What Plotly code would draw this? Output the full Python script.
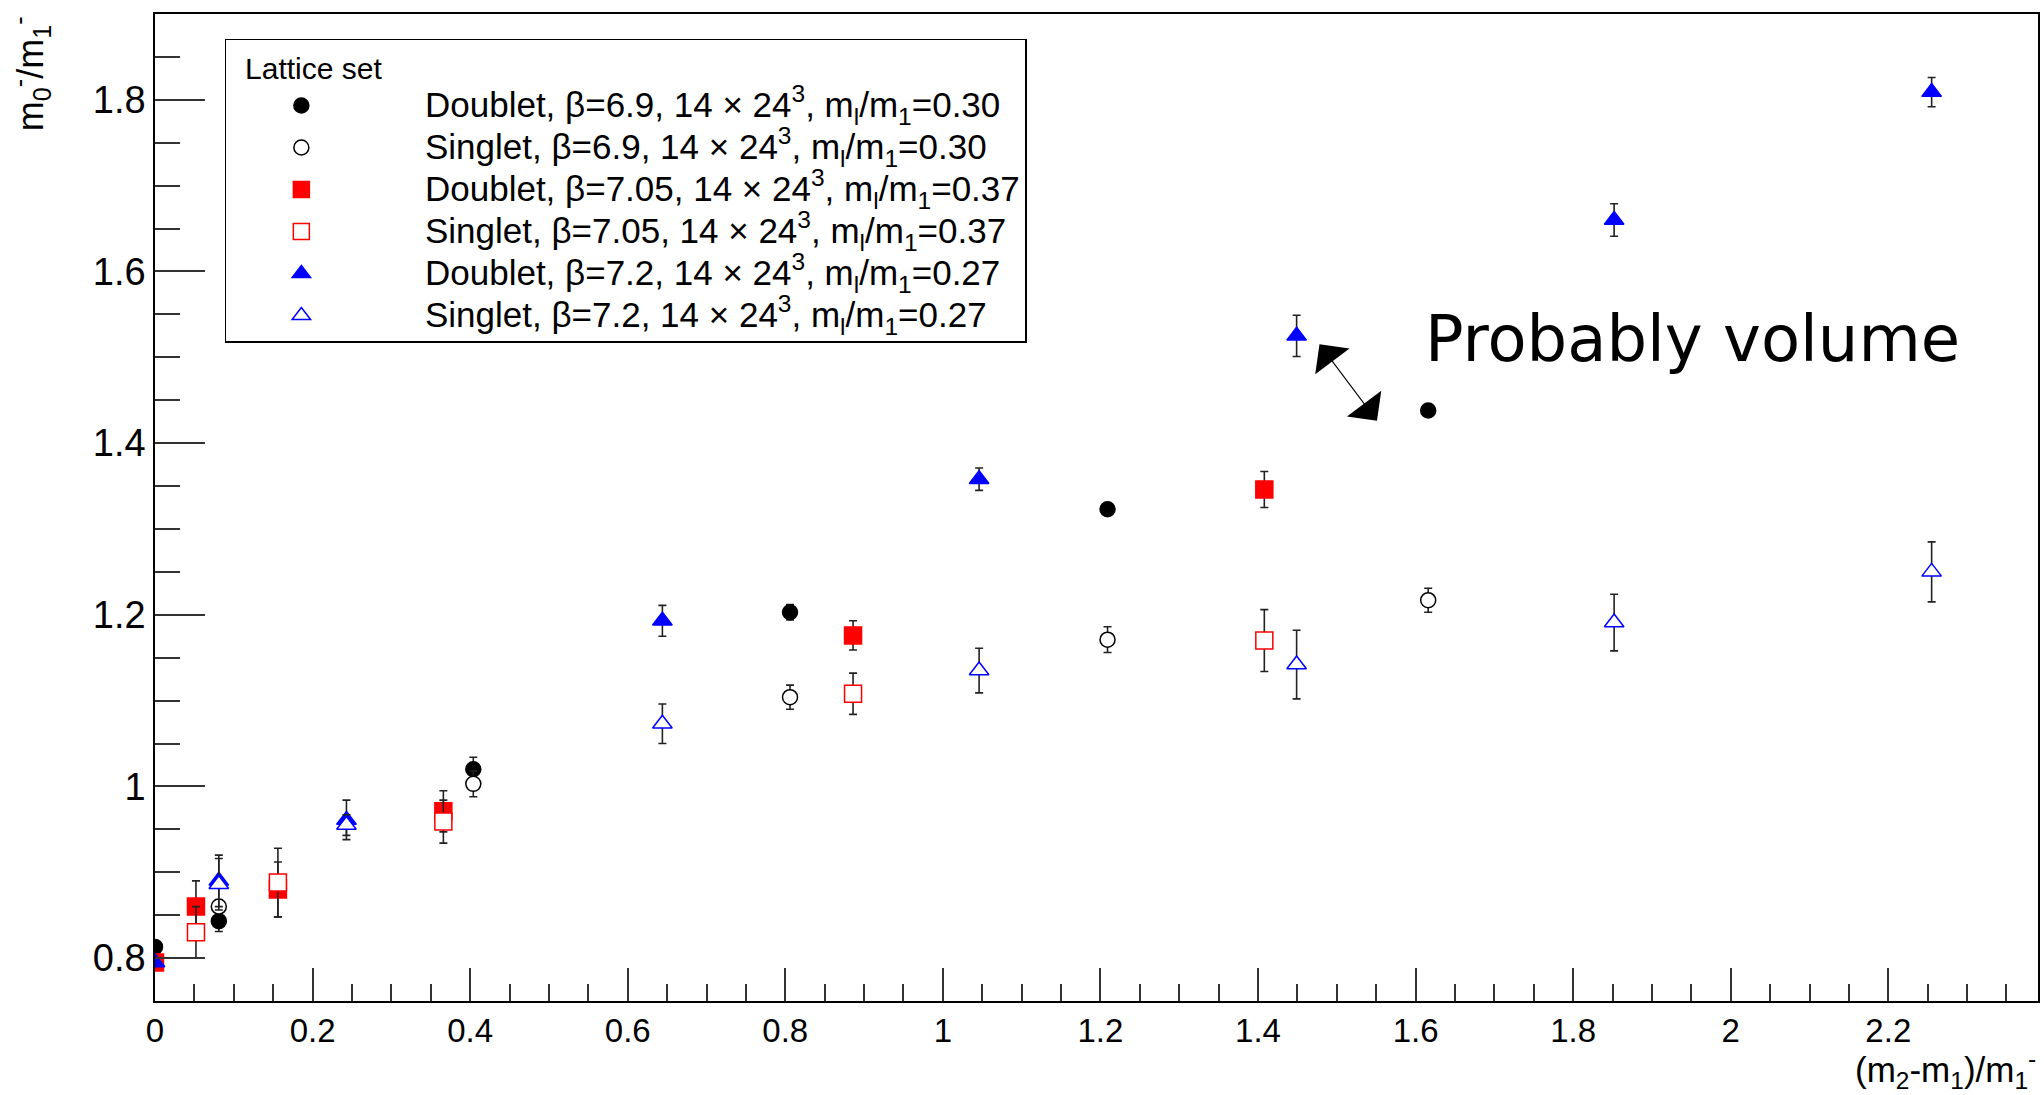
import plotly.graph_objects as go

# m0-/m1 ratio versus (m2-m1)/m1 for three lattice ensembles

# Doublet, beta=6.9
d69_x = [0.0, 0.081, 0.404, 0.806, 1.209, 1.616]
d69_y = [0.813, 0.843, 1.020, 1.203, 1.323, 1.438]
d69_err = [0.003, 0.012, 0.014, 0.009, 0.006, 0.004]

# Singlet, beta=6.9
s69_x = [0.081, 0.404, 0.806, 1.209, 1.616]
s69_y = [0.860, 1.003, 1.104, 1.171, 1.217]
s69_err = [0.008, 0.015, 0.014, 0.015, 0.014]

# Doublet, beta=7.05
d705_x = [0.0, 0.052, 0.156, 0.366, 0.886, 1.408]
d705_y = [0.795, 0.860, 0.880, 0.971, 1.176, 1.346]
d705_err = [0.003, 0.030, 0.032, 0.024, 0.017, 0.021]

# Singlet, beta=7.05
s705_x = [0.052, 0.156, 0.366, 0.886, 1.408]
s705_y = [0.830, 0.888, 0.959, 1.108, 1.170]
s705_err = [0.030, 0.040, 0.025, 0.024, 0.036]

# Doublet, beta=7.2
d72_x = [0.0, 0.081, 0.243, 0.644, 1.046, 1.449, 1.852, 2.255]
d72_y = [0.795, 0.890, 0.961, 1.193, 1.358, 1.525, 1.660, 1.809]
d72_err = [0.003, 0.030, 0.023, 0.018, 0.013, 0.024, 0.019, 0.017]

# Singlet, beta=7.2
s72_x = [0.081, 0.243, 0.644, 1.046, 1.449, 1.852, 2.255]
s72_y = [0.886, 0.955, 1.073, 1.135, 1.142, 1.191, 1.250]
s72_err = [0.030, 0.012, 0.023, 0.026, 0.040, 0.033, 0.035]

series_labels = [
    "Doublet, β=6.9, 14 × 24<sup>3</sup>, m<sub>l</sub>/m<sub>1</sub>=0.30",
    "Singlet, β=6.9, 14 × 24<sup>3</sup>, m<sub>l</sub>/m<sub>1</sub>=0.30",
    "Doublet, β=7.05, 14 × 24<sup>3</sup>, m<sub>l</sub>/m<sub>1</sub>=0.37",
    "Singlet, β=7.05, 14 × 24<sup>3</sup>, m<sub>l</sub>/m<sub>1</sub>=0.37",
    "Doublet, β=7.2, 14 × 24<sup>3</sup>, m<sub>l</sub>/m<sub>1</sub>=0.27",
    "Singlet, β=7.2, 14 × 24<sup>3</sup>, m<sub>l</sub>/m<sub>1</sub>=0.27",
]

FONT = "Liberation Sans, Arial, Helvetica, sans-serif"
NBSP = "\u00a0"

styles = [
    dict(symbol="circle", size=15, color="black", line=dict(color="black", width=1.5)),
    dict(symbol="circle", size=15, color="white", line=dict(color="black", width=1.5)),
    dict(symbol="square", size=17, color="#ff0000", line=dict(color="#ff0000", width=1.5)),
    dict(symbol="square", size=17, color="white", line=dict(color="#ff0000", width=1.5)),
    dict(symbol="triangle-up", size=17, color="#0000ff", line=dict(color="#0000ff", width=1.5)),
    dict(symbol="triangle-up", size=17, color="white", line=dict(color="#0000ff", width=1.5)),
]

data = [
    (d69_x, d69_y, d69_err),
    (s69_x, s69_y, s69_err),
    (d705_x, d705_y, d705_err),
    (s705_x, s705_y, s705_err),
    (d72_x, d72_y, d72_err),
    (s72_x, s72_y, s72_err),
]

fig = go.Figure()
for (xs, ys, es), label, st in zip(data, series_labels, styles):
    # legend rows keep a compact spacing while the entry text is drawn larger
    name = '<span style="font-size:35px">' + NBSP * 5 + label + "</span>"
    fig.add_trace(go.Scatter(
        x=xs, y=ys, mode="markers", name=name,
        marker=st,
        error_y=dict(type="data", array=es, visible=True,
                     color="#222222", thickness=1.6, width=4),
    ))

fig.update_layout(
    width=2044, height=1095,
    margin=dict(l=155, r=4, t=14, b=94),
    paper_bgcolor="white", plot_bgcolor="white",
    font=dict(family=FONT, color="black"),
    showlegend=True,
    legend=dict(
        x=0.0371, y=0.9747, xanchor="left", yanchor="top",
        bgcolor="white", bordercolor="black", borderwidth=1.5,
        font=dict(family=FONT, size=30, color="black"),
        title=dict(text=NBSP * 2 + "Lattice set", font=dict(family=FONT, size=30)),
        itemwidth=140,
        tracegroupgap=0,
    ),
)

fig.update_xaxes(
    range=[0, 2.39],
    showgrid=False, zeroline=False,
    showline=True, linecolor="black", linewidth=1.5, mirror=True,
    ticks="inside", ticklen=33, tickwidth=1.5, tickcolor="#333333",
    dtick=0.2, tick0=0,
    tickfont=dict(family=FONT, size=33),
    minor=dict(dtick=0.05, ticks="inside", ticklen=17, tickwidth=1.5, tickcolor="#333333"),
)
fig.update_yaxes(
    range=[0.75, 1.9],
    showgrid=False, zeroline=False,
    showline=True, linecolor="black", linewidth=1.5, mirror=True,
    ticks="inside", ticklen=50, tickwidth=1.5, tickcolor="#333333",
    dtick=0.2, tick0=0,
    tickfont=dict(family=FONT, size=38),
    minor=dict(dtick=0.05, ticks="inside", ticklen=25, tickwidth=1.5, tickcolor="#333333"),
)

# Axis titles placed at the far ends of the axes
fig.add_annotation(
    text="(m<sub>2</sub>-m<sub>1</sub>)/m<sub>1</sub><sup>-</sup>",
    xref="paper", yref="paper", x=1.0, y=-0.069,
    xanchor="right", yanchor="middle", showarrow=False,
    font=dict(family=FONT, size=35),
)
fig.add_annotation(
    text="m<sub>0</sub><sup>-</sup>/m<sub>1</sub><sup>-</sup>",
    xref="paper", yref="paper", x=-0.066, y=1.0,
    xanchor="center", yanchor="top", textangle=-90, showarrow=False,
    font=dict(family=FONT, size=36),
)

# Comment text and double-headed arrow
fig.add_annotation(
    text="Probably volume",
    xref="x", yref="y", x=1.6096, y=1.521,
    xanchor="left", yanchor="middle", showarrow=False,
    font=dict(family="DejaVu Sans", size=64, color="black"),
)
fig.add_annotation(
    text="", xref="x", yref="y", axref="x", ayref="y",
    x=1.551, y=1.426, ax=1.4766, ay=1.517,
    showarrow=True, arrowside="end+start",
    arrowhead=1, startarrowhead=1,
    arrowsize=6.5, startarrowsize=6.5, arrowwidth=1.1, arrowcolor="black",
    standoff=0, startstandoff=0,
)

fig.write_html("out.html")
